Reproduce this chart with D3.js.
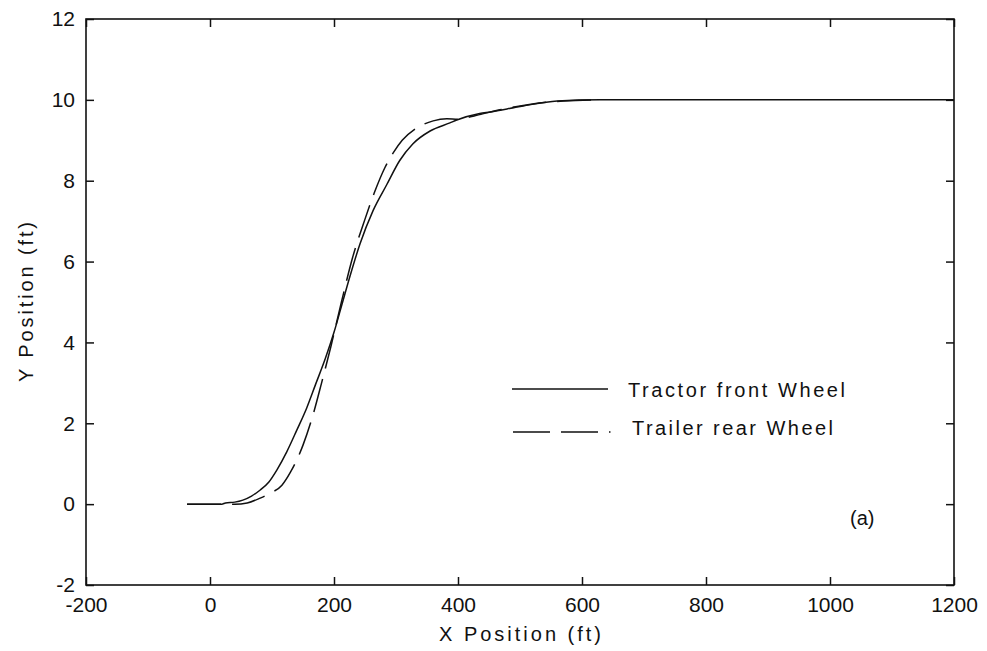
<!DOCTYPE html>
<html>
<head>
<meta charset="utf-8">
<script src="https://cdn.jsdelivr.net/npm/d3@7/dist/d3.min.js"></script>
<style>
  html, body { margin: 0; padding: 0; background: #fff; }
  svg { display: block; }
  text { font-family: "Liberation Sans", Arial, sans-serif; fill: #111; }
</style>
</head>
<body>
<svg id="chart" width="987" height="651"></svg>
<script>
// Tractor front wheel path: [x (ft), y (ft)]
const tractorFront = [
  [-37, 0], [19, 0], [25, 0.03], [40, 0.05], [53, 0.1], [67, 0.2], [81, 0.35],
  [95, 0.55], [108, 0.85], [124, 1.3], [140, 1.83], [156, 2.38], [170, 2.95],
  [186, 3.6], [200, 4.25], [213, 4.95], [226, 5.65], [242, 6.44], [263, 7.26],
  [285, 7.9], [306, 8.5], [327, 8.91], [355, 9.23], [387, 9.43], [398, 9.5],
  [435, 9.66], [452, 9.7], [505, 9.85], [560, 9.97], [629, 10.0], [1200, 10.0]
];

// Trailer rear wheel path: [x (ft), y (ft)]
const trailerRear = [
  [-37, 0], [40, 0], [60, 0.03], [81, 0.15], [97, 0.27], [116, 0.47], [130, 0.8],
  [142, 1.16], [150, 1.46], [166, 2.2], [180, 3.0], [195, 3.9], [212, 5.0],
  [230, 6.1], [250, 7.05], [265, 7.7], [282, 8.32], [296, 8.7], [310, 9.0],
  [331, 9.28], [360, 9.48], [382, 9.53], [400, 9.52], [430, 9.62], [470, 9.76],
  [520, 9.9], [570, 9.97], [629, 10.0]
];

const xTicks = [-200, 0, 200, 400, 600, 800, 1000, 1200];
const yTicks = [-2, 0, 2, 4, 6, 8, 10, 12];
const seriesNames = ["Tractor front Wheel", "Trailer rear Wheel"];

const svg = d3.select("#chart");
const plotL = 86, plotR = 954, plotT = 19, plotB = 585;

const x = d3.scaleLinear().domain([-200, 1200]).range([plotL, plotR]);
const y = d3.scaleLinear().domain([-2, 12]).range([plotB, plotT]);

const ink = "#111";
const tickLen = 8;
const plain = d => String(d);

// Axes: bottom/left with labels, top/right ticks only (ticks point inward)
const gx = svg.append("g").attr("transform", `translate(0,${plotB})`)
  .call(d3.axisBottom(x).tickValues(xTicks).tickFormat(plain)
    .tickSizeInner(-tickLen).tickSizeOuter(0).tickPadding(12));
const gxTop = svg.append("g").attr("transform", `translate(0,${plotT})`)
  .call(d3.axisTop(x).tickValues(xTicks).tickSizeInner(-tickLen).tickSizeOuter(0).tickFormat(""));
const gy = svg.append("g").attr("transform", `translate(${plotL},0)`)
  .call(d3.axisLeft(y).tickValues(yTicks).tickFormat(plain)
    .tickSizeInner(-tickLen).tickSizeOuter(0).tickPadding(11));
const gyRight = svg.append("g").attr("transform", `translate(${plotR},0)`)
  .call(d3.axisRight(y).tickValues(yTicks).tickSizeInner(-tickLen).tickSizeOuter(0).tickFormat(""));

[gx, gxTop, gy, gyRight].forEach(g => {
  g.select(".domain").remove();
  g.selectAll(".tick line").attr("stroke", ink).attr("stroke-width", 1.5);
  g.selectAll(".tick text").attr("fill", ink).style("font-size", "21px")
    .style("font-family", '"Liberation Sans", Arial, sans-serif');
});
gx.selectAll(".tick text").attr("dy", "0.71em");

// Frame
svg.append("rect")
  .attr("x", plotL).attr("y", plotT)
  .attr("width", plotR - plotL).attr("height", plotB - plotT)
  .attr("fill", "none").attr("stroke", ink).attr("stroke-width", 1.6);

// Curves
const line = d3.line().x(d => x(d[0])).y(d => y(d[1])).curve(d3.curveMonotoneX);

svg.append("path").datum(tractorFront)
  .attr("d", line).attr("fill", "none")
  .attr("stroke", ink).attr("stroke-width", 1.5);

svg.append("path").datum(trailerRear)
  .attr("d", line).attr("fill", "none")
  .attr("stroke", ink).attr("stroke-width", 1.5)
  .attr("stroke-dasharray", "34,11");

// Legend
const lg = svg.append("g");
lg.append("line").attr("x1", 512).attr("x2", 608).attr("y1", 389).attr("y2", 389)
  .attr("stroke", ink).attr("stroke-width", 1.5);
lg.append("text").attr("x", 628).attr("y", 397)
  .attr("textLength", 217).attr("lengthAdjust", "spacing")
  .style("font-size", "20px").text(seriesNames[0]);

lg.append("line").attr("x1", 513).attr("x2", 612).attr("y1", 432).attr("y2", 432)
  .attr("stroke", ink).attr("stroke-width", 1.5)
  .attr("stroke-dasharray", "37,11,37,11,1.5,20");
lg.append("text").attr("x", 632).attr("y", 435)
  .attr("textLength", 201).attr("lengthAdjust", "spacing")
  .style("font-size", "20px").text(seriesNames[1]);

// Panel tag
svg.append("text").attr("x", 850).attr("y", 525)
  .style("font-size", "20px").text("(a)");

// Axis titles
svg.append("text").attr("x", (plotL + plotR) / 2).attr("y", 641)
  .attr("text-anchor", "middle")
  .attr("textLength", 162).attr("lengthAdjust", "spacing")
  .style("font-size", "20px").text("X Position (ft)");

svg.append("text")
  .attr("transform", `translate(33,${(plotT + plotB) / 2}) rotate(-90)`)
  .attr("text-anchor", "middle")
  .attr("textLength", 160).attr("lengthAdjust", "spacing")
  .style("font-size", "20px").text("Y Position (ft)");
</script>
</body>
</html>
